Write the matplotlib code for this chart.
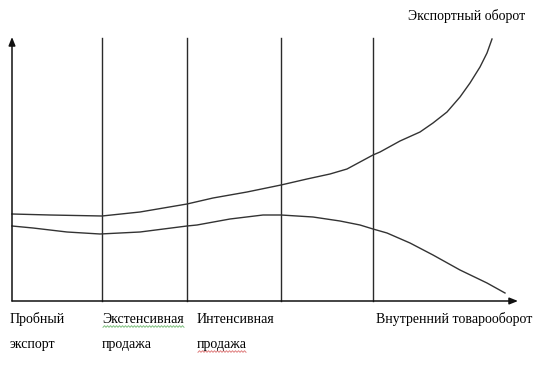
import matplotlib
matplotlib.use("Agg")
import matplotlib.pyplot as plt
import numpy as np

# Coordinates are in a canvas-like data space: x to the right, level = height above the x axis
stage_x = [102, 187, 281, 373]
axis_x_end = 518
axis_y_end = 264

export_x = [12, 50, 102, 140, 187, 213, 247, 281, 307, 330, 347, 360, 373, 380, 400, 420, 433, 447, 460, 470, 480, 487, 492]
export_px = [214, 215, 216, 212, 204, 198, 192, 185, 179, 174, 169, 162, 155, 152, 141, 132, 123, 112, 97, 83, 67, 53, 39]

domestic_x = [12, 33, 67, 100, 140, 187, 197, 230, 263, 281, 313, 340, 360, 373, 387, 410, 433, 460, 487, 505]
domestic_px = [226, 228, 232, 234, 232, 226, 225, 219, 215, 215, 217, 221, 225, 229, 233, 243, 255, 270, 283, 293]

BASE = 301
export_level = [BASE - v for v in export_px]
domestic_level = [BASE - v for v in domestic_px]

stage_labels = [("Пробный", "экспорт", 10), ("Экстенсивная", "продажа", 102),
                ("Интенсивная", "продажа", 197)]
domestic_label = "Внутренний товарооборот"
export_label = "Экспортный оборот"

fig = plt.figure(figsize=(5.5, 3.65), dpi=100)
ax = fig.add_axes([0, 0, 1, 1])
ax.set_xlim(0, 550)
ax.set_ylim(BASE - 365, BASE)
ax.axis("off")

lc = "#2a2a2a"
# axes with arrows
ax.annotate("", xy=(12, axis_y_end), xytext=(12, 0),
            arrowprops=dict(arrowstyle="-|>,head_length=0.5,head_width=0.2", color="#111", lw=1.1,
                            shrinkA=0, shrinkB=0))
ax.annotate("", xy=(axis_x_end, 0), xytext=(12, 0),
            arrowprops=dict(arrowstyle="-|>,head_length=0.5,head_width=0.2", color="#111", lw=1.1,
                            shrinkA=0, shrinkB=0))
for sx in stage_x:
    ax.plot([sx, sx], [0, BASE - 38], color=lc, lw=1.0)

ax.plot(export_x, export_level, color="#333", lw=1.0, solid_joinstyle="round", antialiased=True)
ax.plot(domestic_x, domestic_level, color="#333", lw=1.0, solid_joinstyle="round", antialiased=True)

font = dict(family="Liberation Serif", fontsize=10, color="black")
for l1, l2, x in stage_labels:
    ax.text(x, BASE - 323, l1, ha="left", va="baseline", **font)
    ax.text(x, BASE - 348, l2, ha="left", va="baseline", **font)
ax.text(376, BASE - 323, domestic_label, ha="left", va="baseline", **font)
ax.text(408, BASE - 20, export_label, ha="left", va="baseline", **font)

# spell-check squiggles
def squiggle(x0, x1, y, color):
    xs = np.arange(x0, x1 + 0.1, 1.5)
    ys = y + 0.8 * np.array([(-1) ** i for i in range(len(xs))])
    ax.plot(xs, BASE - ys, color=color, lw=0.7)

squiggle(103, 184, 326.5, "#7fbf7f")
squiggle(198, 246, 351.5, "#e08080")

fig.savefig("out.png", dpi=100)
